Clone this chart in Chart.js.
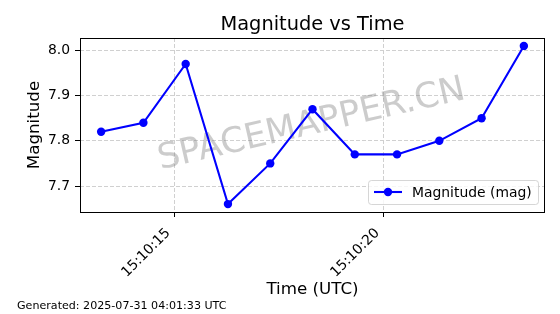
<!DOCTYPE html>
<html>
<head>
<meta charset="utf-8">
<script src="https://cdn.jsdelivr.net/npm/chart.js@4.4.1/dist/chart.umd.min.js"></script>
<style>
  html, body { margin: 0; padding: 0; background: #ffffff; }
  canvas { display: block; }
</style>
</head>
<body>
<canvas id="c" width="560" height="314"></canvas>
<script>
// ---- data ----
const times = ['15:10:13.250', '15:10:14.261', '15:10:15.272', '15:10:16.283', '15:10:17.294',
               '15:10:18.305', '15:10:19.316', '15:10:20.327', '15:10:21.338', '15:10:22.349', '15:10:23.360'];
const magnitudes = [7.82, 7.84, 7.97, 7.66, 7.75, 7.87, 7.77, 7.77, 7.80, 7.85, 8.01];
const xTickLabels = ['15:10:15', '15:10:20'];
const yTickLabels = ['7.7', '7.8', '7.9', '8.0'];
const seriesLabel = 'Magnitude (mag)';
const titleText = 'Magnitude vs Time';
const xTitle = 'Time (UTC)';
const yTitle = 'Magnitude';
const footerText = 'Generated: 2025-07-31 04:01:33 UTC';
const watermarkText = 'SPACEMAPPER.CN';

// seconds after 15:10:00
function toSec(s) {
  const p = s.split(':');
  return (parseFloat(p[0]) - 15) * 3600 + (parseFloat(p[1]) - 10) * 60 + parseFloat(p[2]);
}
const xs = times.map(toSec);
const points = xs.map((x, i) => ({ x: x, y: magnitudes[i] }));
const xTickVals = xTickLabels.map(toSec);
const yTickVals = yTickLabels.map(Number);

// matplotlib-like 5% margins
const xMinD = Math.min(...xs), xMaxD = Math.max(...xs);
const yMinD = Math.min(...magnitudes), yMaxD = Math.max(...magnitudes);
const xm = (xMaxD - xMinD) * 0.05, ym = (yMaxD - yMinD) * 0.05;

const FONT = "'DejaVu Sans', 'Liberation Sans', sans-serif";
const BLUE = '#0000ff';

const decor = {
  id: 'decor',
  beforeDatasetsDraw(chart) {
    const { ctx, chartArea: a } = chart;
    ctx.save();
    ctx.translate((a.left + a.right) / 2 - 1, (a.top + a.bottom) / 2);
    ctx.rotate(-13 * Math.PI / 180);
    ctx.font = '35px ' + FONT;
    ctx.fillStyle = 'rgba(128,128,128,0.4)';
    ctx.textAlign = 'center';
    ctx.textBaseline = 'middle';
    ctx.fillText(watermarkText, 0, 0);
    ctx.restore();
  },
  afterDatasetsDraw(chart) {
    const { ctx, chartArea: a } = chart;
    ctx.save();
    ctx.strokeStyle = '#000';
    ctx.lineWidth = 1;
    ctx.strokeRect(Math.round(a.left) + 0.5, Math.round(a.top) + 0.5,
                   Math.round(a.right - a.left) - 1, Math.round(a.bottom - a.top));
    ctx.restore();
  },
  afterDraw(chart) {
    const { ctx, chartArea: a } = chart;
    const cx = (a.left + a.right) / 2;
    ctx.save();
    ctx.fillStyle = '#000';
    // title
    ctx.font = '19.4px ' + FONT;
    ctx.textAlign = 'center';
    ctx.textBaseline = 'alphabetic';
    ctx.fillText(titleText, cx, 30);
    // x title
    ctx.font = '16.7px ' + FONT;
    ctx.fillText(xTitle, cx, 294);
    // y title
    ctx.save();
    ctx.translate(39, (a.top + a.bottom) / 2);
    ctx.rotate(-Math.PI / 2);
    ctx.textAlign = 'center';
    ctx.fillText(yTitle, 0, 0);
    ctx.restore();
    // footer
    ctx.font = '11.1px ' + FONT;
    ctx.textAlign = 'left';
    ctx.fillText(footerText, 17, 309);
    // legend
    const lx = 368, ly = 180, lw = 170, lh = 24;
    ctx.beginPath();
    ctx.roundRect(lx + 0.5, ly + 0.5, lw, lh, 3);
    ctx.fillStyle = 'rgba(255,255,255,0.8)';
    ctx.fill();
    ctx.strokeStyle = 'rgba(204,204,204,0.8)';
    ctx.lineWidth = 1;
    ctx.stroke();
    const my = ly + lh / 2;
    ctx.beginPath();
    ctx.moveTo(374, my);
    ctx.lineTo(402, my);
    ctx.strokeStyle = BLUE;
    ctx.lineWidth = 2.1;
    ctx.stroke();
    ctx.beginPath();
    ctx.arc(388, my, 4.2, 0, Math.PI * 2);
    ctx.fillStyle = BLUE;
    ctx.fill();
    ctx.fillStyle = '#000';
    ctx.font = '13.9px ' + FONT;
    ctx.textBaseline = 'middle';
    ctx.fillText(chart.data.datasets[0].label, 412, my + 1);
    ctx.restore();
  }
};

new Chart(document.getElementById('c'), {
  type: 'line',
  data: {
    datasets: [{
      label: seriesLabel,
      data: points,
      borderColor: BLUE,
      backgroundColor: BLUE,
      borderWidth: 2.1,
      pointRadius: 4.2,
      pointBorderWidth: 0,
      pointBackgroundColor: BLUE,
      tension: 0,
      fill: false
    }]
  },
  options: {
    responsive: false,
    animation: false,
    events: [],
    layout: { padding: { left: 0, right: 15, top: 38, bottom: 0 } },
    plugins: { legend: { display: false }, title: { display: false }, tooltip: { enabled: false } },
    scales: {
      x: {
        type: 'linear',
        min: xMinD - xm,
        max: xMaxD + xm,
        afterBuildTicks(s) { s.ticks = xTickVals.map(v => ({ value: v })); },
        afterFit(s) { s.height = 102; },
        border: { display: false, dash: [4, 2] },
        grid: { color: '#d0d0d0', lineWidth: 1, tickColor: '#000', tickLength: 5, tickWidth: 1, tickBorderDash: [1, 0] },
        ticks: {
          minRotation: 45, maxRotation: 45, padding: 8, labelOffset: -6,
          color: '#000',
          font: { family: FONT, size: 13.9 },
          callback(v) { const i = xTickVals.indexOf(v); return i >= 0 ? xTickLabels[i] : ''; }
        }
      },
      y: {
        type: 'linear',
        min: yMinD - ym,
        max: yMaxD + ym,
        afterBuildTicks(s) { s.ticks = yTickVals.map(v => ({ value: v })); },
        afterFit(s) { s.width = 80; },
        border: { display: false, dash: [4, 2] },
        grid: { color: '#d0d0d0', lineWidth: 1, tickColor: '#000', tickLength: 5, tickWidth: 1, tickBorderDash: [1, 0] },
        ticks: {
          padding: 5,
          color: '#000',
          font: { family: FONT, size: 13.9 },
          callback(v) { return Number(v).toFixed(1); }
        }
      }
    }
  },
  plugins: [decor]
});
</script>
</body>
</html>
